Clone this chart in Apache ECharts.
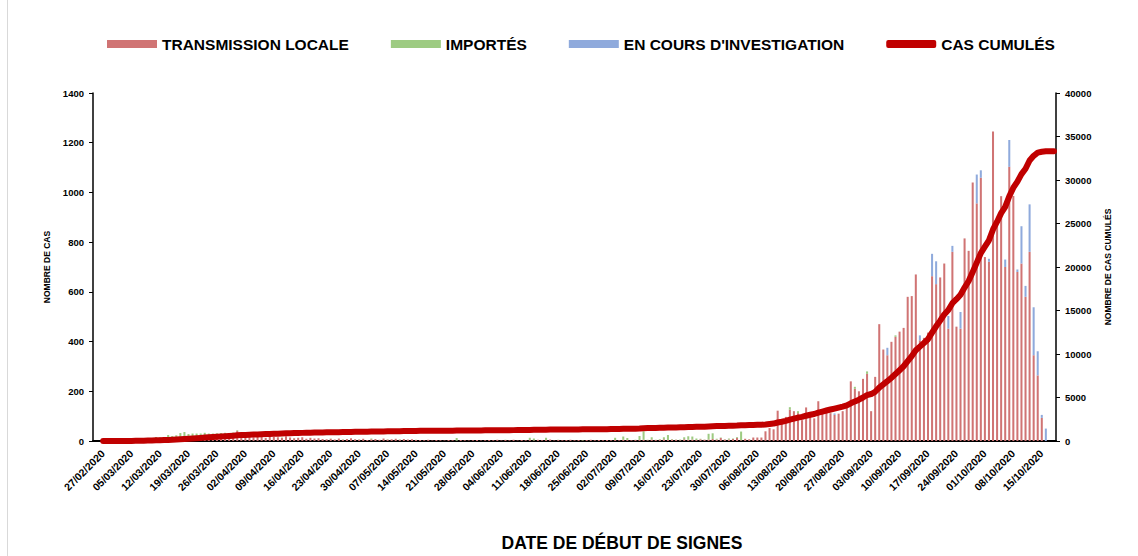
<!DOCTYPE html>
<html>
<head>
<meta charset="utf-8">
<title>Cas par date de début de signes</title>
<script src="https://cdn.jsdelivr.net/npm/echarts@6/dist/echarts.min.js"></script>
<style>
  html, body { margin: 0; padding: 0; background: #fff; }
  #chart { width: 1138px; height: 556px; }
</style>
</head>
<body>
<div id="chart"></div>
<script>
// une catégorie par jour, du 25/02/2020 au 18/10/2020
const firstDate = '2020-02-25';
const dayCount = 237;
const firstCaseIndex = 2; // 27/02/2020

// transmission locale, par mois
const localFeb = [0, 0, 0, 0, 0];
const localMar = [0, 0, 1, 1, 2, 3, 4, 5, 6, 5, 8, 10, 6, 12, 5, 8, 14, 16, 12, 16, 12, 20, 18, 22, 20, 25, 24, 28, 26, 30, 40];
const localApr = [21, 18, 25, 15, 23, 19, 13, 21, 17, 15, 12, 19, 14, 11, 13, 15, 9, 12, 10, 11, 8, 7, 9, 6, 10, 5, 8, 11, 7, 6];
const localMay = [9, 4, 7, 8, 5, 10, 6, 7, 9, 5, 8, 6, 7, 4, 4, 3, 5, 2, 4, 3, 2, 4, 3, 1, 4, 3, 2, 3, 4, 2, 3];
const localJun = [4, 3, 5, 2, 4, 3, 5, 2, 4, 3, 4, 2, 5, 3, 4, 6, 2, 4, 3, 4, 5, 3, 4, 2, 4, 5, 3, 4, 3, 4];
const localJul = [3, 4, 3, 5, 4, 3, 4, 4, 5, 3, 6, 4, 5, 7, 4, 6, 5, 3, 7, 5, 6, 4, 7, 5, 6, 8, 6, 12, 6, 6, 8];
const localAug = [13, 3, 9, 7, 14, 14, 14, 39, 52, 47, 122, 85, 97, 126, 120, 112, 84, 135, 103, 91, 160, 120, 118, 112, 105, 110, 120, 135, 240, 210, 200];
const localSep = [250, 270, 120, 258, 470, 368, 345, 399, 419, 440, 455, 580, 583, 670, 405, 415, 436, 663, 631, 658, 714, 452, 761, 460, 452, 815, 765, 1040, 956, 1059];
const localOct = [740, 721, 1245, 890, 985, 700, 1103, 986, 680, 714, 580, 761, 345, 264, 93, 0, 0, 0];

// importés
const importedFeb = [0, 0, 0, 1, 0];
const importedMar = [1, 2, 1, 2, 3, 2, 4, 5, 3, 6, 8, 5, 10, 12, 15, 15, 18, 20, 16, 14, 18, 10, 15, 8, 10, 6, 8, 5, 6, 4, 3];
const importedApr = [1, 0, 2, 0, 1, 0, 0, 1, 0, 0, 2, 0, 0, 1, 0, 0, 0, 1, 0, 0, 0, 0, 1, 0, 0, 2, 0, 0, 0, 1];
const importedMay = [0, 0, 3, 0, 0, 0, 1, 0, 0, 2, 0, 0, 0, 1, 0, 0, 0, 0, 0, 0, 0, 0, 0, 11, 0, 0, 0, 0, 0, 0, 0];
const importedJun = [0, 0, 0, 0, 1, 0, 0, 0, 0, 0, 9, 8, 0, 0, 9, 0, 0, 1, 0, 0, 0, 0, 0, 2, 0, 0, 0, 0, 0, 0];
const importedJul = [0, 9, 0, 13, 8, 0, 1, 16, 34, 2, 9, 1, 3, 8, 20, 2, 1, 3, 8, 14, 12, 6, 2, 1, 23, 23, 3, 2, 1, 4, 2];
const importedAug = [3, 35, 0, 0, 0, 0, 0, 0, 0, 0, 0, 0, 0, 10, 0, 8, 0, 0, 6, 0, 0, 0, 0, 2, 0, 0, 0, 0, 0, 8, 0];
const importedSep = [0, 10, 0, 0, 0, 0, 0, 0, 6, 0, 0, 0, 0, 0, 0, 0, 0, 0, 0, 0, 0, 0, 0, 0, 0, 0, 0, 0, 0, 0];
const importedOct = [0, 0, 0, 0, 0, 0, 0, 0, 0, 0, 0, 0, 0, 0, 0, 0, 0, 0];

// en cours d'investigation
const investFeb = [0, 0, 0, 0, 0];
const investMar = new Array(31).fill(0);
const investApr = new Array(30).fill(0);
const investMay = new Array(31).fill(0);
const investJun = new Array(30).fill(0);
const investJul = new Array(31).fill(0);
const investAug = [0, 0, 0, 0, 0, 0, 0, 0, 0, 0, 0, 0, 0, 0, 0, 0, 0, 0, 0, 0, 0, 0, 0, 0, 6, 0, 0, 0, 0, 0, 0];
const investSep = [0, 0, 0, 0, 0, 0, 30, 0, 0, 0, 0, 0, 0, 0, 20, 0, 0, 90, 92, 0, 0, 51, 24, 0, 67, 0, 0, 0, 116, 30];
const investOct = [0, 12, 0, 0, 0, 30, 108, 0, 10, 150, 44, 191, 193, 97, 12, 50, 0, 0];

const local = [].concat(localFeb, localMar, localApr, localMay, localJun, localJul, localAug, localSep, localOct);
const imported = [].concat(importedFeb, importedMar, importedApr, importedMay, importedJun, importedJul, importedAug, importedSep, importedOct);
const investigation = [].concat(investFeb, investMar, investApr, investMay, investJun, investJul, investAug, investSep, investOct);

// dates jj/mm/aaaa
const dates = [];
const d0 = new Date(firstDate + 'T00:00:00Z');
for (let i = 0; i < dayCount; i++) {
  const d = new Date(d0.getTime() + i * 86400000);
  const dd = String(d.getUTCDate()).padStart(2, '0');
  const mm = String(d.getUTCMonth() + 1).padStart(2, '0');
  dates.push(dd + '/' + mm + '/' + d.getUTCFullYear());
}

// cas cumulés = somme des trois séries
const cumul = [];
let total = 0;
for (let i = 0; i < dayCount; i++) {
  total += local[i] + imported[i] + investigation[i];
  cumul.push(i < firstCaseIndex ? null : total);
}

const font = '"Liberation Sans", Arial, sans-serif';
const chart = echarts.init(document.getElementById('chart'), null, { renderer: 'svg' });

const plainNumber = function (v) { return String(v); };

chart.setOption({
  animation: false,
  textStyle: { fontFamily: font },
  grid: { left: 93, right: 82, top: 93, bottom: 115 },
  legend: {
    left: 107,
    top: 36,
    padding: 0,
    itemWidth: 50,
    itemHeight: 8,
    itemGap: 42,
    textStyle: { fontSize: 15.5, fontWeight: 'bold', color: '#000' },
    data: [
      { name: 'TRANSMISSION LOCALE', icon: 'rect' },
      { name: 'IMPORTÉS', icon: 'rect' },
      { name: "EN COURS D'INVESTIGATION", icon: 'rect' },
      { name: 'CAS CUMULÉS', icon: 'roundRect', itemStyle: { color: '#C00000' } }
    ]
  },
  graphic: [
    {
      type: 'rect',
      shape: { x: 7.5, y: -5, width: 1200, height: 600 },
      style: { fill: 'none', stroke: '#d9d9d9', lineWidth: 1 },
      silent: true
    },
    {
      type: 'text',
      x: 622,
      y: 543,
      style: {
        text: 'DATE DE DÉBUT DE SIGNES',
        align: 'center',
        verticalAlign: 'middle',
        fontSize: 17.5,
        fontWeight: 'bold',
        fontFamily: font,
        fill: '#000'
      }
    }
  ],
  xAxis: {
    type: 'category',
    data: dates,
    boundaryGap: true,
    axisLine: { lineStyle: { color: '#000', width: 2 } },
    axisTick: { show: false },
    axisLabel: {
      interval: function (idx) { return (idx - firstCaseIndex) % 7 === 0; },
      rotate: 45,
      margin: 11,
      fontSize: 10.5,
      fontWeight: 'bold',
      color: '#000'
    }
  },
  yAxis: [
    {
      type: 'value',
      min: 0,
      max: 1400,
      interval: 200,
      name: 'NOMBRE DE CAS',
      nameLocation: 'middle',
      nameGap: 42,
      nameTextStyle: { fontSize: 8.5, fontWeight: 'bold', color: '#000' },
      axisLine: { show: true, lineStyle: { color: '#000', width: 1.5 } },
      axisTick: { show: true, length: 4, lineStyle: { color: '#000' } },
      axisLabel: { margin: 9, fontSize: 9.5, fontWeight: 'bold', color: '#000', formatter: plainNumber },
      splitLine: { show: false }
    },
    {
      type: 'value',
      min: 0,
      max: 40000,
      interval: 5000,
      name: 'NOMBRE DE CAS CUMULÉS',
      nameLocation: 'middle',
      nameGap: 47,
      nameTextStyle: { fontSize: 8.5, fontWeight: 'bold', color: '#000' },
      axisLine: { show: true, lineStyle: { color: '#000', width: 1.5 } },
      axisTick: { show: true, length: 4, lineStyle: { color: '#000' } },
      axisLabel: { margin: 9, fontSize: 9.5, fontWeight: 'bold', color: '#000', formatter: plainNumber },
      splitLine: { show: false }
    }
  ],
  series: [
    {
      name: 'TRANSMISSION LOCALE',
      type: 'bar',
      stack: 'cas',
      barWidth: '50%',
      itemStyle: { color: '#D07474' },
      data: local
    },
    {
      name: 'IMPORTÉS',
      type: 'bar',
      stack: 'cas',
      barWidth: '50%',
      itemStyle: { color: '#9DCB82' },
      data: imported
    },
    {
      name: "EN COURS D'INVESTIGATION",
      type: 'bar',
      stack: 'cas',
      barWidth: '50%',
      itemStyle: { color: '#8FAADC' },
      data: investigation
    },
    {
      name: 'CAS CUMULÉS',
      type: 'line',
      yAxisIndex: 1,
      symbol: 'none',
      z: 5,
      itemStyle: { color: '#C00000' },
      lineStyle: { color: '#C00000', width: 6, cap: 'round', join: 'round' },
      data: cumul
    }
  ]
});
</script>
</body>
</html>
